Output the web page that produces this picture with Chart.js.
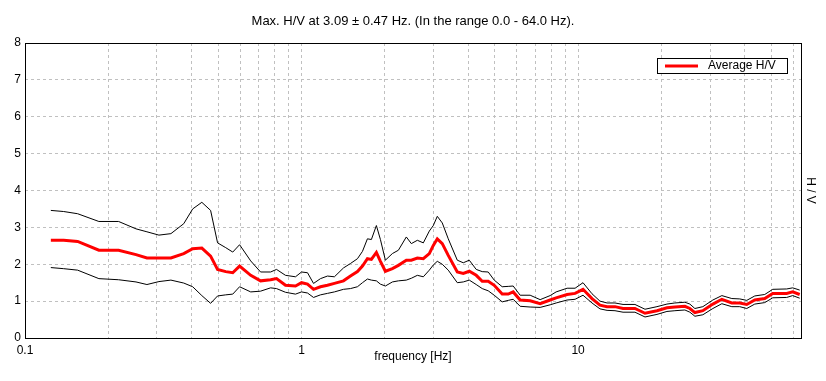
<!DOCTYPE html>
<html>
<head>
<meta charset="utf-8">
<script src="https://cdn.jsdelivr.net/npm/chart.js@4.4.0/dist/chart.umd.min.js"></script>
<style>
  html, body { margin: 0; padding: 0; background: #fff; }
  #hv { display: block; }
</style>
</head>
<body>
<canvas id="hv" width="826" height="381"></canvas>
<script>
// H/V spectral ratio
const freqs = [
  0.124, 0.138, 0.155, 0.185, 0.218, 0.252, 0.276, 0.305, 0.337, 0.375,
  0.404, 0.436, 0.469, 0.497, 0.532, 0.564, 0.597, 0.655, 0.711, 0.773,
  0.812, 0.875, 0.951, 1.0, 1.051, 1.105, 1.171, 1.241, 1.315, 1.418,
  1.503, 1.593, 1.661, 1.731, 1.789, 1.865, 1.929, 2.010, 2.131, 2.240,
  2.393, 2.495, 2.623, 2.757, 2.898, 2.996, 3.097, 3.228, 3.393, 3.658,
  3.845, 4.042, 4.283, 4.502, 4.732, 4.975, 5.317, 5.589, 5.826, 6.175,
  6.710, 7.293, 7.925, 8.330, 9.128, 9.755, 10.42, 11.23, 12.00, 12.73,
  13.60, 14.54, 16.06, 17.46, 19.29, 20.96, 22.40, 24.34, 25.37, 26.45,
  28.27, 30.72, 33.11, 35.97, 38.43, 40.74, 43.55, 47.32, 50.58, 56.81,
  59.72, 63.31
];

const avgHV = [
  2.65, 2.65, 2.62, 2.38, 2.38, 2.26, 2.17, 2.17, 2.17, 2.29,
  2.42, 2.44, 2.22, 1.86, 1.80, 1.77, 1.95, 1.70, 1.55, 1.58,
  1.61, 1.43, 1.41, 1.50, 1.46, 1.32, 1.39, 1.43, 1.48, 1.55,
  1.68, 1.80, 1.95, 2.15, 2.13, 2.32, 2.08, 1.81, 1.88, 1.97,
  2.11, 2.11, 2.17, 2.15, 2.29, 2.51, 2.69, 2.56, 2.24, 1.79,
  1.75, 1.81, 1.70, 1.54, 1.54, 1.43, 1.19, 1.19, 1.25, 1.03,
  1.01, 0.93, 1.03, 1.09, 1.18, 1.21, 1.32, 1.07, 0.89, 0.85,
  0.85, 0.80, 0.80, 0.67, 0.74, 0.82, 0.84, 0.86, 0.80, 0.69,
  0.74, 0.92, 1.05, 0.95, 0.95, 0.91, 1.03, 1.07, 1.21, 1.21,
  1.25, 1.18
];

const upperHV = [
  3.46, 3.43, 3.37, 3.16, 3.16, 2.96, 2.88, 2.79, 2.83, 3.10,
  3.50, 3.68, 3.46, 2.58, 2.45, 2.33, 2.53, 2.09, 1.79, 1.79,
  1.86, 1.70, 1.66, 1.79, 1.77, 1.48, 1.61, 1.68, 1.66, 1.90,
  2.02, 2.15, 2.35, 2.69, 2.67, 3.05, 2.67, 2.11, 2.29, 2.38,
  2.74, 2.56, 2.65, 2.58, 2.90, 3.05, 3.30, 3.12, 2.69, 2.11,
  2.04, 2.11, 1.86, 1.80, 1.79, 1.57, 1.39, 1.40, 1.41, 1.16,
  1.16, 1.04, 1.15, 1.25, 1.35, 1.35, 1.50, 1.20, 1.00, 0.95,
  0.95, 0.91, 0.91, 0.78, 0.85, 0.92, 0.95, 0.97, 0.92, 0.80,
  0.85, 1.03, 1.15, 1.07, 1.06, 1.02, 1.14, 1.18, 1.32, 1.33,
  1.36, 1.30
];

const lowerHV = [
  1.91, 1.88, 1.84, 1.61, 1.58, 1.52, 1.45, 1.53, 1.57, 1.49,
  1.39, 1.15, 0.94, 1.14, 1.17, 1.19, 1.39, 1.25, 1.27, 1.36,
  1.34, 1.24, 1.19, 1.25, 1.22, 1.10, 1.17, 1.21, 1.25, 1.32,
  1.34, 1.39, 1.50, 1.60, 1.57, 1.55, 1.46, 1.41, 1.52, 1.55,
  1.57, 1.62, 1.70, 1.66, 1.84, 1.98, 2.08, 2.00, 1.84, 1.50,
  1.52, 1.57, 1.45, 1.34, 1.28, 1.16, 0.98, 1.02, 1.05, 0.86,
  0.84, 0.83, 0.90, 0.95, 1.03, 1.05, 1.16, 0.95, 0.79, 0.75,
  0.74, 0.70, 0.70, 0.57, 0.64, 0.72, 0.74, 0.76, 0.70, 0.59,
  0.63, 0.80, 0.93, 0.85, 0.85, 0.80, 0.92, 0.96, 1.09, 1.10,
  1.15, 1.08
];

// grid lines of the log axis, labels only on the decades
const gridFreqs = [
  0.1, 0.2, 0.3, 0.4, 0.5, 0.6, 0.7, 0.8, 0.9,
  1, 2, 3, 4, 5, 6, 7, 8, 9,
  10, 20, 30, 40, 50, 60
];
const decadeLabels = { 0.1: '0.1', 1: '1', 10: '10' };

function points(ys) {
  return freqs.map((f, i) => ({ x: f, y: ys[i] }));
}

const FONT = { family: 'Liberation Sans, Arial, sans-serif', size: 12 };
const gridStyle = {
  color: '#c0c0c0',
  lineWidth: 1,
  drawTicks: false
};

// frame round the plot area and the boxed legend
const framePlugin = {
  id: 'frame',
  afterDraw(chart) {
    const { ctx, chartArea: a } = chart;
    ctx.save();
    ctx.strokeStyle = '#000';
    ctx.lineWidth = 1;
    ctx.setLineDash([]);
    ctx.strokeRect(Math.round(a.left) + 0.5, Math.round(a.top) + 0.5,
      Math.round(a.right - a.left), Math.round(a.bottom - a.top));

    const ds = chart.data.datasets[0];
    const bx = 657, by = 58, bw = 130, bh = 15;
    ctx.fillStyle = '#fff';
    ctx.fillRect(bx, by, bw, bh);
    ctx.strokeRect(bx + 0.5, by + 0.5, bw, bh);
    ctx.strokeStyle = ds.borderColor;
    ctx.lineWidth = 3;
    ctx.beginPath();
    ctx.moveTo(665, 66);
    ctx.lineTo(698, 66);
    ctx.stroke();
    ctx.fillStyle = '#000';
    ctx.font = '12px ' + FONT.family;
    ctx.textBaseline = 'middle';
    ctx.fillText(ds.label, 708, 66);
    ctx.restore();
  }
};

new Chart(document.getElementById('hv'), {
  type: 'line',
  data: {
    datasets: [
      {
        label: 'Average H/V',
        data: points(avgHV),
        borderColor: '#ff0000',
        borderWidth: 3,
        pointRadius: 0,
        tension: 0
      },
      {
        label: 'upper',
        data: points(upperHV),
        borderColor: '#000',
        borderWidth: 1,
        pointRadius: 0,
        tension: 0
      },
      {
        label: 'lower',
        data: points(lowerHV),
        borderColor: '#000',
        borderWidth: 1,
        pointRadius: 0,
        tension: 0
      }
    ]
  },
  options: {
    responsive: false,
    animation: false,
    events: [],
    layout: { padding: 0 },
    plugins: {
      legend: { display: false },
      tooltip: { enabled: false },
      title: {
        display: true,
        text: 'Max. H/V at 3.09 \u00b1 0.47 Hz. (In the range 0.0 - 64.0 Hz).',
        color: '#000',
        font: { family: FONT.family, size: 13, weight: 'normal', lineHeight: 1.2 },
        padding: { top: 14, bottom: 13.4 }
      }
    },
    scales: {
      x: {
        type: 'logarithmic',
        min: 0.1,
        max: 64,
        border: { display: false, dash: [3, 3] },
        grid: gridStyle,
        afterBuildTicks(scale) {
          scale.ticks = gridFreqs.map(v => ({ value: v }));
        },
        afterFit(scale) { scale.height = 43; },
        ticks: {
          color: '#000',
          font: FONT,
          padding: 5,
          maxRotation: 0,
          autoSkip: false,
          callback: v => decadeLabels[v] || ''
        },
        title: {
          display: true,
          text: 'frequency [Hz]',
          color: '#000',
          font: FONT,
          padding: { top: 0, bottom: 16.8 }
        }
      },
      y: {
        position: 'left',
        min: 0,
        max: 8,
        border: { display: false, dash: [3, 3] },
        grid: gridStyle,
        afterFit(scale) { scale.width = 25; },
        ticks: {
          color: '#000',
          font: FONT,
          padding: 4,
          stepSize: 1
        }
      },
      yRight: {
        type: 'linear',
        position: 'right',
        min: 0,
        max: 8,
        border: { display: false },
        grid: { display: false, drawTicks: false },
        ticks: { display: false },
        afterFit(scale) { scale.width = 25; },
        title: {
          display: true,
          text: 'H / V',
          color: '#000',
          font: FONT,
          padding: { top: 8.8, bottom: 0 }
        }
      }
    }
  },
  plugins: [framePlugin]
});
</script>
</body>
</html>
